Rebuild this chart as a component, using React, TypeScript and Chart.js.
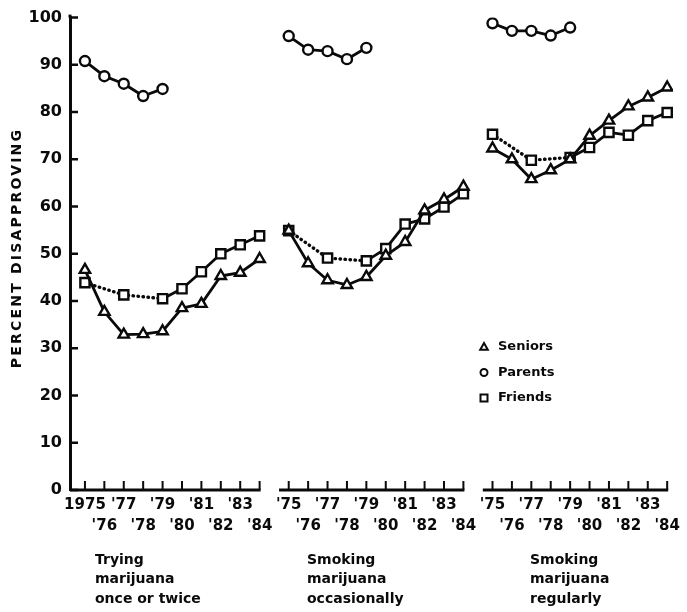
import React, { useEffect, useRef } from 'react';
import { Chart, registerables } from 'chart.js';

Chart.register(...registerables);

// ---- data ----
const YEARS = [1975, 1976, 1977, 1978, 1979, 1980, 1981, 1982, 1983, 1984];

const PANEL_CAPTIONS = [
  ['Trying', 'marijuana', 'once or twice'],
  ['Smoking', 'marijuana', 'occasionally'],
  ['Smoking', 'marijuana', 'regularly'],
];

const SERIES_NAMES = ['Seniors', 'Parents', 'Friends'];

const SENIORS_TRY = [46.6, 37.7, 32.9, 33.0, 33.6, 38.5, 39.4, 45.3, 46.0, 48.9];
const PARENTS_TRY = [90.8, 87.6, 86.0, 83.4, 84.9, null, null, null, null, null];
const FRIENDS_TRY = [43.9, null, 41.3, null, 40.5, 42.6, 46.2, 50.0, 51.9, 53.8];

const SENIORS_OCC = [54.9, 48.0, 44.4, 43.4, 45.1, 49.6, 52.5, 59.2, 61.5, 64.2];
const PARENTS_OCC = [96.1, 93.2, 92.9, 91.2, 93.6, null, null, null, null, null];
const FRIENDS_OCC = [54.9, null, 49.1, null, 48.5, 51.1, 56.3, 57.4, 59.9, 62.7];

const SENIORS_REG = [72.3, 70.0, 65.8, 67.7, 70.0, 75.0, 78.2, 81.2, 83.1, 85.2];
const PARENTS_REG = [98.8, 97.2, 97.2, 96.2, 97.9, null, null, null, null, null];
const FRIENDS_REG = [75.3, null, 69.8, null, 70.4, 72.5, 75.7, 75.1, 78.2, 79.9];

const PANEL_SERIES = [
  [SENIORS_TRY, PARENTS_TRY, FRIENDS_TRY],
  [SENIORS_OCC, PARENTS_OCC, FRIENDS_OCC],
  [SENIORS_REG, PARENTS_REG, FRIENDS_REG],
];

const Y_TICKS = [0, 10, 20, 30, 40, 50, 60, 70, 80, 90, 100];

// ---- layout ----
const PANEL_OFFSET = 10.5; // x units between panel starts
const FONT = "'DejaVu Sans', sans-serif";
const INK = '#0a0a0a';
const POINT_STYLES = ['triangle', 'circle', 'rect'];
const POINT_RADII = [6, 5, 6.5];
const CAPTION_X = [95, 307, 530];

function xValue(panel: number, yearIdx: number) {
  return panel * PANEL_OFFSET + yearIdx;
}

function isGap(ctx: any) {
  if (ctx.p0.skip || ctx.p1.skip) return true;
  const xs = ctx.chart.scales.x;
  const unit = Math.abs(xs.getPixelForValue(1) - xs.getPixelForValue(0));
  return ctx.p1.x - ctx.p0.x > unit * 1.5;
}

function drawMarker(ctx: CanvasRenderingContext2D, style: string, cx: number, cy: number, r: number) {
  ctx.beginPath();
  if (style === 'triangle') {
    ctx.moveTo(cx, cy - r);
    ctx.lineTo(cx + r * 0.95, cy + r * 0.7);
    ctx.lineTo(cx - r * 0.95, cy + r * 0.7);
    ctx.closePath();
  } else if (style === 'circle') {
    ctx.arc(cx, cy, r, 0, Math.PI * 2);
  } else {
    ctx.rect(cx - r, cy - r, 2 * r, 2 * r);
  }
  ctx.fillStyle = '#fff';
  ctx.fill();
  ctx.stroke();
}

const decorPlugin = {
  id: 'decor',
  afterDraw(chart: any) {
    const { ctx, chartArea } = chart;
    const xs = chart.scales.x;
    const ys = chart.scales.y;
    ctx.save();
    ctx.strokeStyle = INK;
    ctx.fillStyle = INK;
    ctx.lineCap = 'butt';

    // y axis top extension + tick marks (pointing inward)
    ctx.lineWidth = 3;
    ctx.beginPath();
    ctx.moveTo(chartArea.left, chartArea.top);
    ctx.lineTo(chartArea.left, chartArea.top - 3);
    ctx.stroke();
    ctx.lineWidth = 2.5;
    ctx.beginPath();
    Y_TICKS.forEach((v) => {
      const py = ys.getPixelForValue(v);
      ctx.moveTo(chartArea.left, py);
      ctx.lineTo(chartArea.left + 8, py);
    });
    ctx.stroke();

    // x axis segments per panel
    const by = chartArea.bottom;
    PANEL_CAPTIONS.forEach((_, p) => {
      const x0 = p === 0 ? chartArea.left : xs.getPixelForValue(xValue(p, 0) - 0.5);
      const x1 = xs.getPixelForValue(xValue(p, YEARS.length - 1));
      ctx.lineWidth = 2.8;
      ctx.beginPath();
      ctx.moveTo(x0, by);
      ctx.lineTo(x1 + 1, by);
      ctx.stroke();
      ctx.lineWidth = 2;
      ctx.beginPath();
      YEARS.forEach((_, i) => {
        const px = xs.getPixelForValue(xValue(p, i));
        ctx.moveTo(px, by);
        ctx.lineTo(px, by - 9);
      });
      ctx.stroke();
    });

    // panel captions
    ctx.font = `bold 14px ${FONT}`;
    ctx.textAlign = 'left';
    ctx.textBaseline = 'middle';
    PANEL_CAPTIONS.forEach((lines, p) => {
      lines.forEach((line, i) => {
        ctx.fillText(line, CAPTION_X[p], 560 + i * 19.5);
      });
    });

    // y-axis title
    ctx.save();
    ctx.translate(17, 248);
    ctx.rotate(-Math.PI / 2);
    ctx.font = `bold 14px ${FONT}`;
    (ctx as any).letterSpacing = '2.2px';
    ctx.textAlign = 'center';
    ctx.textBaseline = 'middle';
    ctx.fillText('PERCENT DISAPPROVING', 0, 0);
    ctx.restore();

    // legend
    ctx.font = `bold 13px ${FONT}`;
    ctx.textAlign = 'left';
    ctx.textBaseline = 'middle';
    SERIES_NAMES.forEach((name, i) => {
      const ly = 347 + i * 25.5;
      ctx.lineWidth = 2;
      ctx.strokeStyle = INK;
      drawMarker(ctx, POINT_STYLES[i], 484, ly, i === 0 ? 4 : 3.5);
      ctx.fillStyle = INK;
      ctx.fillText(name, 498, ly);
    });

    ctx.restore();
  },
};

export default function App() {
  const canvasRef = useRef<HTMLCanvasElement | null>(null);

  useEffect(() => {
    const canvas = canvasRef.current;
    if (!canvas) return;

    const datasets: any[] = [];
    PANEL_SERIES.forEach((series, p) => {
      series.forEach((values, s) => {
        const pts = values
          .map((v, i) => ({ x: xValue(p, i), y: v }))
          .filter((pt) => pt.y !== null && pt.y !== undefined);
        datasets.push({
          label: `${SERIES_NAMES[s]} ${p}`,
          data: pts,
          borderColor: INK,
          backgroundColor: '#fff',
          borderWidth: 2.8,
          borderCapStyle: 'round',
          borderJoinStyle: 'round',
          pointStyle: POINT_STYLES[s],
          pointRadius: POINT_RADII[s],
          pointBorderWidth: 2.4,
          pointBackgroundColor: '#fff',
          pointBorderColor: INK,
          spanGaps: true,
          tension: 0,
          segment: {
            borderDash: (ctx: any) => (isGap(ctx) ? [0.5, 4.5] : undefined),
            borderWidth: (ctx: any) => (isGap(ctx) ? 3.4 : undefined),
          },
        });
      });
    });

    const tickValues: number[] = [];
    PANEL_CAPTIONS.forEach((_, p) => YEARS.forEach((_, i) => tickValues.push(xValue(p, i))));

    const chart = new Chart(canvas, {
      type: 'line',
      data: { datasets },
      plugins: [decorPlugin],
      options: {
        responsive: false,
        animation: false,
        events: [],
        layout: { padding: { top: 15, right: 14, left: 0, bottom: 0 } },
        plugins: { legend: { display: false }, tooltip: { enabled: false } },
        scales: {
          x: {
            type: 'linear',
            min: -0.77,
            max: 30.3,
            grid: { display: false, drawTicks: false },
            border: { display: false },
            afterBuildTicks: (scale: any) => {
              scale.ticks = tickValues.map((v) => ({ value: v }));
            },
            afterFit: (scale: any) => {
              scale.height = 122;
            },
            ticks: {
              autoSkip: false,
              maxRotation: 0,
              minRotation: 0,
              padding: 5,
              color: INK,
              font: { family: FONT, size: 15, weight: 'bold', lineHeight: 1.4 },
              callback: (value: any) => {
                const v = Number(value);
                const p = Math.round(Math.floor((v + 0.5) / PANEL_OFFSET));
                const idx = Math.round(v - p * PANEL_OFFSET);
                const yr = YEARS[idx];
                if (yr === undefined) return '';
                const txt = p === 0 && idx === 0 ? String(yr) : `'${String(yr).slice(2)}`;
                return idx % 2 === 0 ? [txt, ''] : ['', txt];
              },
            },
          },
          y: {
            type: 'linear',
            min: 0,
            max: 100,
            grid: { display: false, drawTicks: false },
            border: { display: true, color: INK, width: 3 },
            afterBuildTicks: (scale: any) => {
              scale.ticks = Y_TICKS.map((v) => ({ value: v }));
            },
            afterFit: (scale: any) => {
              scale.width = 70;
            },
            ticks: {
              padding: 8,
              color: INK,
              font: { family: FONT, size: 16, weight: 'bold' },
              callback: (value: any) => String(value),
            },
          },
        },
      } as any,
    });

    return () => chart.destroy();
  }, []);

  return (
    <div style={{ position: 'fixed', left: 0, top: 0, width: 687, height: 612, background: '#fff' }}>
      <canvas ref={canvasRef} width={687} height={612} style={{ display: 'block', width: 687, height: 612 }} />
    </div>
  );
}
